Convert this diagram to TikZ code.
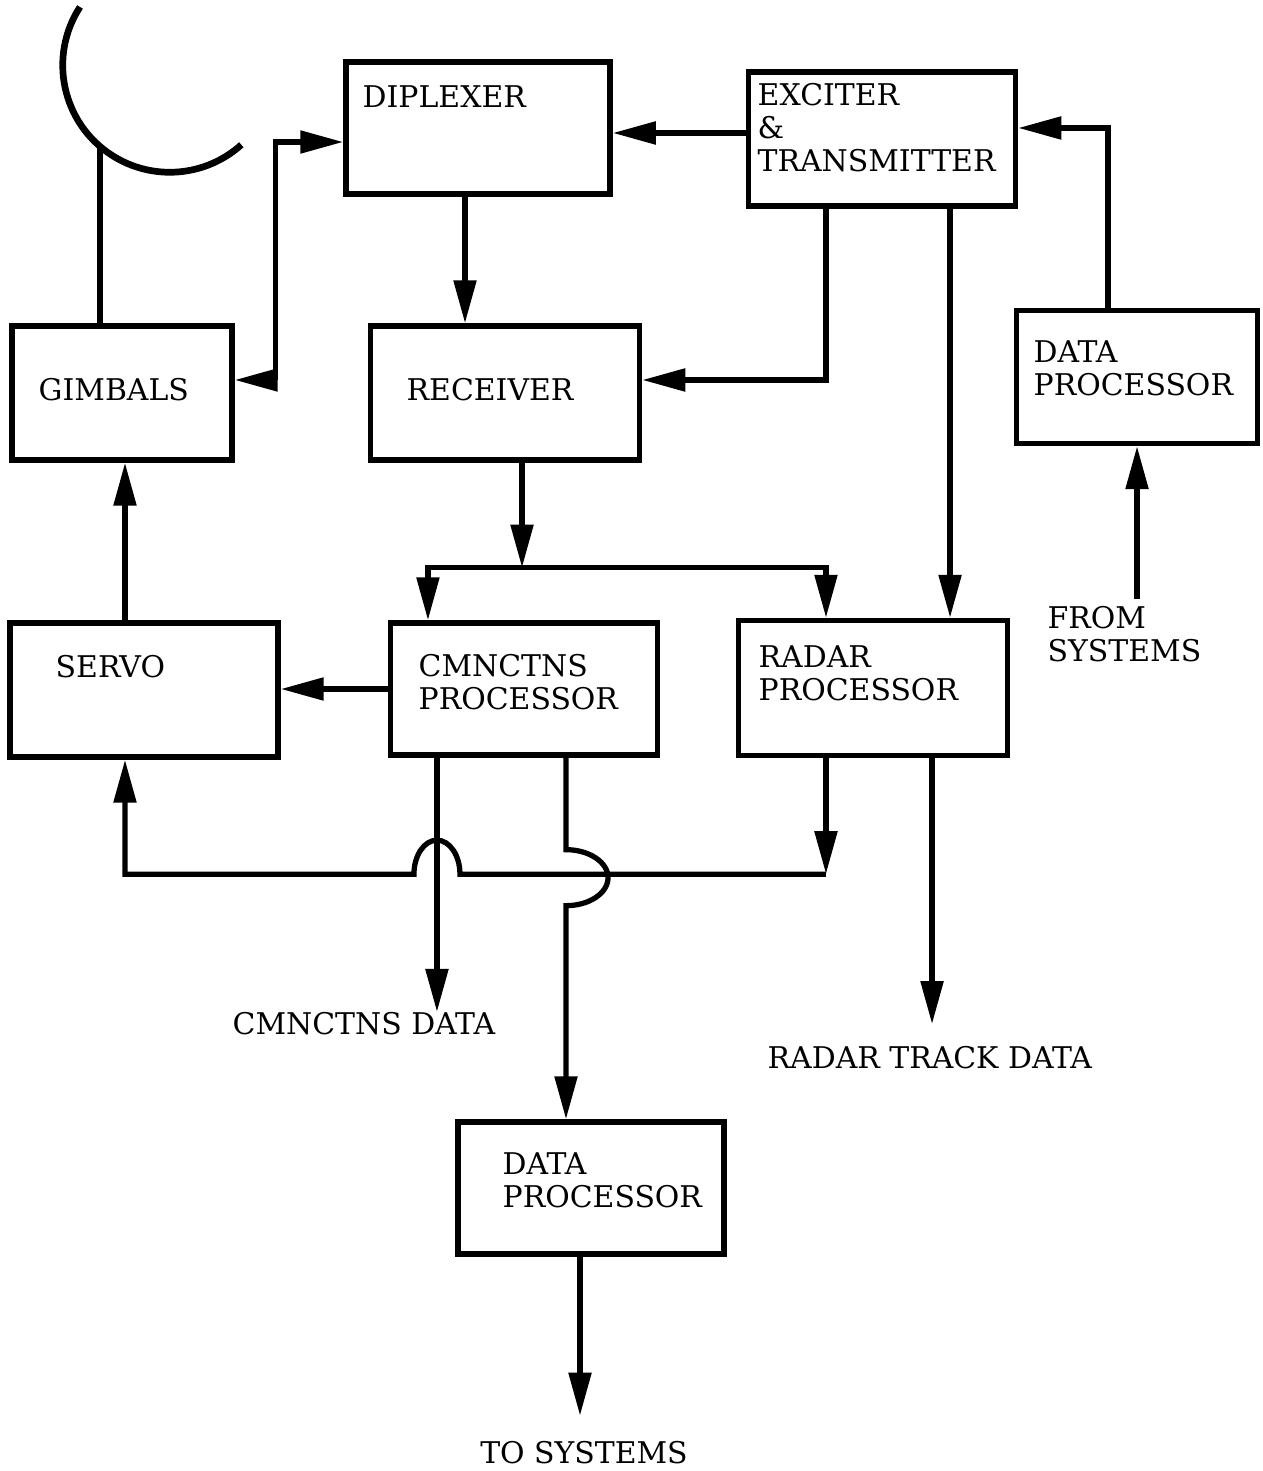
\documentclass[tikz,border=0pt]{standalone}
\usepackage{fontspec}
\setmainfont{DejaVu Serif}
\usetikzlibrary{positioning,calc,arrows.meta}

\tikzset{
  blk/.style={draw, line width=1.5pt, inner sep=0pt},
  txt/.style={inner sep=0pt, anchor=west, align=left, font=\fontsize{8.5}{9.4}\selectfont},
  wire/.style={line width=1.5pt},
  >={Triangle[length=0.43cm,width=0.22cm]}
}

\begin{document}
\begin{tikzpicture}[x=0.01cm,y=0.01cm]
\useasboundingbox (0,0) rectangle (1262,-1471);
% blocks
\node(DIP) [blk, minimum width=2.64cm, minimum height=1.32cm] at (478,-128)  {};
\node(EXC) [blk, minimum width=2.67cm, minimum height=1.34cm] at (882,-139)  {};
\node(DPR) [blk, minimum width=2.41cm, minimum height=1.33cm] at (1137,-377) {};
\node(GIM) [blk, minimum width=2.20cm, minimum height=1.34cm] at (122,-393)  {};
\node(RCV) [blk, minimum width=2.69cm, minimum height=1.34cm] at (505,-393)  {};
\node(SRV) [blk, minimum width=2.68cm, minimum height=1.34cm] at (144,-690)  {};
\node(CMN) [blk, minimum width=2.67cm, minimum height=1.32cm] at (524,-689)  {};
\node(RAD) [blk, minimum width=2.69cm, minimum height=1.35cm] at (873,-688)  {};
\node(DPB) [blk, minimum width=2.66cm, minimum height=1.32cm] at (591,-1188) {};
% texts
\node(DIPt) [txt] at (362,-97)   {DIPLEXER};
\node(EXCt) [txt] at (757,-128)  {EXCITER\\\&\\TRANSMITTER};
\node(DPRt) [txt] at (1033,-368) {DATA\\PROCESSOR};
\node(GIMt) [txt] at (38,-390)   {GIMBALS};
\node(RCVt) [txt] at (406,-390)  {RECEIVER};
\node(SRVt) [txt] at (55,-667)   {SERVO};
\node(CMNt) [txt] at (418,-682)  {CMNCTNS\\PROCESSOR};
\node(RADt) [txt] at (758,-673)  {RADAR\\PROCESSOR};
\node(DPBt) [txt] at (502,-1180) {DATA\\PROCESSOR};
\node(FROM) [txt] at (1047,-634) {FROM\\SYSTEMS};
\node(CDAT) [txt] at (232,-1024) {CMNCTNS DATA};
\node(RDAT) [txt] at (767,-1058) {RADAR TRACK DATA};
\node(TOSY) [txt, anchor=center] at (584,-1453) {TO SYSTEMS};
% antenna
\draw[line width=1.9pt] (80,-7) arc[start angle=147, end angle=312, radius=107];
\coordinate (FEED) at (100,-145);
\draw[wire] (FEED) -- (FEED |- GIM.north);
% connectors
\draw[wire, <->] ([yshift=0.13cm]GIM.east) -- ++(41,0) |- ([yshift=-0.14cm]DIP.west);
\draw[wire, ->] ([yshift=0.06cm]EXC.west) -- ([yshift=0.06cm]EXC.west -| DIP.east);
\draw[wire, ->] ([xshift=-0.29cm]DPR.north) |- ([yshift=0.11cm]EXC.east);
\draw[wire, ->] ([yshift=0.06cm]FROM.north -| DPR.south) -- (DPR.south);
\draw[wire, ->] ([xshift=-0.13cm]DIP.south) -- ([xshift=-0.13cm]DIP.south |- RCV.north);
\draw[wire, ->] ([xshift=-0.56cm]EXC.south) |- ([yshift=0.13cm]RCV.east);
\draw[wire, ->] ([xshift=0.68cm]EXC.south) -- ([xshift=0.68cm]EXC.south |- RAD.north);
\draw[wire, ->] ([xshift=0.17cm]RCV.south) -- ++(0,-105) coordinate (SPL);
\foreach \t/\s in {CMN/-0.96cm, RAD/-0.47cm}
  \draw[wire, ->] (SPL) -| ([xshift=\s]\t.north);
\draw[wire, ->] (CMN.west) -- (CMN.west -| SRV.east);
\draw[wire, ->] ([xshift=-0.19cm]SRV.north) -- ([xshift=-0.19cm]SRV.north |- GIM.south);
% feedback loop to servo
\draw[wire, ->] ([xshift=-0.47cm]RAD.south) -- ++(0,-116) coordinate (FB);
\coordinate (CX) at ([xshift=-0.87cm]CMN.south);
\draw[wire, ->] (FB) -- ($(CX |- FB)+(23,0)$)
  arc[start angle=0, end angle=180, x radius=23, y radius=34]
  -| ([xshift=-0.19cm]SRV.south);
% outputs
\draw[wire, ->] (CX) -- (CX |- CDAT.north);
\draw[wire, ->] ([xshift=0.42cm]CMN.south) -- ++(0,-92)
  arc[start angle=90, end angle=-90, x radius=42, y radius=28]
  -- ([xshift=-0.25cm]DPB.north);
\draw[wire, ->] ([xshift=0.59cm]RAD.south) -- ++(0,-266);
\draw[wire, ->] ([xshift=-0.11cm]DPB.south) -- ++(0,-159);
\end{tikzpicture}
\end{document}
